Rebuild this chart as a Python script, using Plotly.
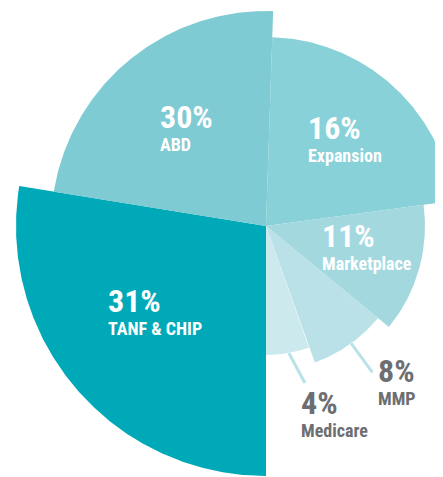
import numpy as np
import plotly.graph_objects as go

# ---- data ----
categories = ["Expansion", "Marketplace", "MMP", "Medicare", "TANF & CHIP", "ABD"]
percents = [16, 11, 8, 4, 31, 30]
# slice geometry as drawn in the source (degrees clockwise from 12 o'clock, radius in px)
slice_start = [1.9, 82.3, 129.4, 160.3, 180.0, 279.2]
slice_end = [82.3, 129.4, 160.3, 180.0, 279.2, 361.9]
slice_radius = [189, 159, 145, 129, 250, 215]

colors = ["#89D1D8", "#A3D8DF", "#B9E1E7", "#CCE9EE", "#00A9B7", "#7ECBD3"]

PAGE_W, PAGE_H = 443, 477
BODY_MARGIN = 8               # default page margin around the plot div
W, H = PAGE_W - BODY_MARGIN, PAGE_H - BODY_MARGIN
CX, CY = 266, 226             # pie centre in page pixels

fig = go.Figure()

for name, a0, a1, r, c in zip(categories, slice_start, slice_end, slice_radius, colors):
    t = np.radians(np.linspace(a0, a1, 240))
    xs = np.concatenate([[0], r * np.sin(t), [0]])
    ys = np.concatenate([[0], r * np.cos(t), [0]])
    fig.add_trace(go.Scatter(x=xs, y=ys, mode="lines", fill="toself",
                             fillcolor=c, line=dict(width=0, color=c),
                             hoverinfo="skip", showlegend=False, name=name))

# leader lines for the small outside-labelled slices: (angle, length, bend)
leaders = {"MMP": (144.0, 36, 0.0), "Medicare": (169.8, 34, -18.0)}
for name, (ang, length, bend) in leaders.items():
    i = categories.index(name)
    r = slice_radius[i]
    a0 = np.radians(ang)
    a1 = np.radians(ang + bend)
    x0, y0 = r * np.sin(a0), r * np.cos(a0)
    x1, y1 = x0 + length * np.sin(a1), y0 + length * np.cos(a1)
    fig.add_trace(go.Scatter(x=[x0, x1], y=[y0, y1], mode="lines",
                             line=dict(color="#B9E1E7", width=3),
                             hoverinfo="skip", showlegend=False))

FONT = "Liberation Sans Narrow, Arial Narrow, Roboto Condensed, Liberation Sans, sans-serif"
WHITE = "#FFFFFF"
GREY = "#6D6E71"

# label anchor positions (page pixel: left x, reference y of the label block)
label_pos = {
    "ABD": (160, 126, WHITE),
    "Expansion": (308, 137, WHITE),
    "Marketplace": (322, 245, WHITE),
    "TANF & CHIP": (108, 310, WHITE),
    "MMP": (378, 380, GREY),
    "Medicare": (301, 412, GREY),
}

for name, p in zip(categories, percents):
    lx, base, col = label_pos[name]
    fig.add_annotation(x=lx - 2 - CX, y=CY - base, xref="x", yref="y",
                       text=f"<b><span style='font-size:32px'>{p}%</span></b><br><b>{name}</b>",
                       showarrow=False, align="left",
                       xanchor="left", yanchor="middle",
                       font=dict(family=FONT, size=18, color=col))

fig.update_layout(
    width=W, height=H,
    margin=dict(l=0, r=0, t=0, b=0),
    paper_bgcolor="white", plot_bgcolor="white",
    xaxis=dict(range=[-(CX - BODY_MARGIN), W - (CX - BODY_MARGIN)],
               visible=False, fixedrange=True),
    yaxis=dict(range=[(CY - BODY_MARGIN) - H, CY - BODY_MARGIN],
               visible=False, fixedrange=True),
    showlegend=False,
)

fig.write_html("out.html")
